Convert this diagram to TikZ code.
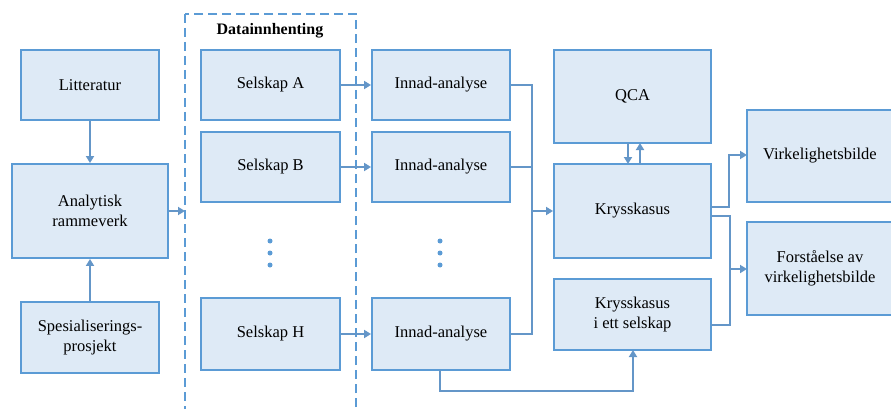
\documentclass[tikz,border=0pt]{standalone}
\usepackage{fontspec}
\setmainfont{Liberation Serif}
\usetikzlibrary{arrows.meta}
\definecolor{bd}{RGB}{91,155,213}
\definecolor{ln}{RGB}{100,150,200}
\definecolor{fl}{RGB}{222,234,246}
\tikzset{
  box/.style={draw=bd, fill=fl, line width=1.9pt, align=center, inner sep=0pt, font=\fontsize{16.5}{19.5}\selectfont},
  conn/.style={draw=ln, line width=1.8pt},
  arr/.style={conn, -{Triangle[width=8pt,length=7pt]}},
  dotc/.style={fill=bd, circle, inner sep=0pt, minimum size=5pt}
}
\newcommand{\bx}[6]{\node[box, minimum width=#4pt-#2pt, minimum height=#5pt-#3pt] (#1) at ({(#2+#4)/2},{(#3+#5)/2}) {#6};}
\begin{document}
\begin{tikzpicture}[x=1pt,y=-1pt]
\useasboundingbox (0,0) rectangle (891,409);
% dashed group
\draw[draw=bd, line width=2.6pt, dash pattern=on 9pt off 5pt] (185,14) rectangle (356,412);
\node[font=\fontsize{16}{19}\selectfont\bfseries] (dlabel) at (270,31) {Datainnhenting};
% left column
\bx{lit}{21}{50}{159}{120}{Litteratur}
\bx{ana}{12}{164}{168}{258}{Analytisk\\rammeverk}
\bx{spe}{21}{302}{159}{373}{Spesialiserings-\\prosjekt}
% companies
\bx{sa}{201}{50}{340}{120}{Selskap A}
\bx{sb}{201}{132}{340}{202}{Selskap B}
\bx{sh}{201}{298}{340}{370}{Selskap H}
\node[dotc] (d1) at (270,241) {};
\node[dotc] (d2) at (270,253) {};
\node[dotc] (d3) at (270,265) {};
% innad
\bx{ia}{372}{50}{510}{120}{Innad-analyse}
\bx{ib}{372}{132}{510}{202}{Innad-analyse}
\bx{ih}{372}{298}{510}{370}{Innad-analyse}
\node[dotc] (e1) at (440,241) {};
\node[dotc] (e2) at (440,253) {};
\node[dotc] (e3) at (440,265) {};
% analysis
\bx{qca}{554}{50}{711}{143}{QCA}
\bx{kk}{554}{164}{711}{258}{Krysskasus}
\bx{kke}{554}{279}{711}{350}{Krysskasus\\i ett selskap}
\bx{vb}{747}{110}{893}{202}{Virkelighetsbilde}
\bx{fv}{747}{222}{893}{315}{Forståelse av\\virkelighetsbilde}
% connectors
\draw[arr] (lit) -- (ana);
\draw[arr] (spe) -- (ana);
\coordinate (gl) at (185,211);
\draw[arr] (ana.east) -- (gl);
\draw[arr] (sa.east) -- (ia.west);
\draw[arr] (sb.east) -- (ib.west);
\draw[arr] (sh.east) -- (ih.west);
\coordinate (mx) at (532,211);
\draw[conn] (ia.east) -| (mx);
\draw[conn] (ib.east) -| (mx);
\draw[conn] (ih.east) -| (mx);
\draw[arr] (mx) -- (kk.west);
\coordinate (q1) at (628,143);
\coordinate (k1) at (628,164);
\coordinate (q2) at (640,143);
\coordinate (k2) at (640,164);
\draw[arr] (q1) -- (k1);
\draw[arr] (k2) -- (q2);
\coordinate (ko1) at (711,207);
\coordinate (ko2) at (711,216);
\coordinate (vbin) at (747,155);
\coordinate (fvin) at (747,269);
\coordinate (keo) at (711,325);
\draw[arr] (ko1) -| (729,181) |- (vbin);
\draw[arr] (ko2) -| (730,242) |- (fvin);
\draw[conn] (keo) -| (730,269);
\coordinate (ihb) at (440,370);
\coordinate (kkeb) at (633,350);
\draw[arr] (ihb) -- (440,391) -| (kkeb);
\end{tikzpicture}
\end{document}
